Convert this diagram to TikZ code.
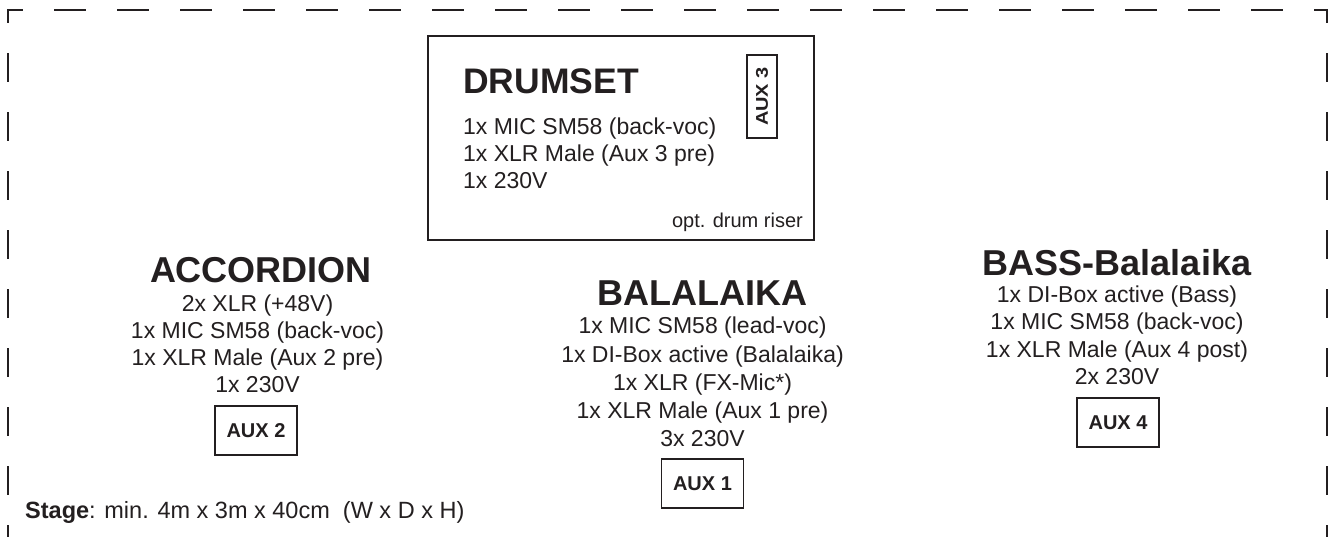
\documentclass[tikz,border=0pt]{standalone}
\usepackage{fontspec}
\setmainfont{Liberation Sans}
\definecolor{ink}{HTML}{231F20}
\begin{document}
\begin{tikzpicture}[x=1pt,y=-1pt,
  every node/.style={text=ink, inner sep=0pt},
  body/.style={font=\fontsize{23}{27}\selectfont, anchor=base},
  bodyl/.style={font=\fontsize{23}{27}\selectfont, anchor=base west},
  titlec/.style={font=\fontsize{36}{40}\selectfont\bfseries, anchor=base},
  titlel/.style={font=\fontsize{35.5}{40}\selectfont\bfseries, anchor=base west},
  auxbox/.style={draw=ink, line width=1.5pt, minimum width=82pt, minimum height=49pt,
    font=\fontsize{20}{24}\selectfont\bfseries},
  hborder/.style={draw=ink, line width=1.7pt, dash pattern=on 32pt off 31pt, dash phase=16pt},
  vborder/.style={draw=ink, line width=1.7pt, dash pattern=on 29pt off 30pt, dash phase=15pt}]
\clip (0,0) rectangle (1332,536);
\fill[white] (0,0) rectangle (1332,536);
% stage border
\coordinate (tl) at (8,9.15);
\coordinate (tr) at (1327,9.15);
\coordinate (bl) at (8,620);
\coordinate (br) at (1327,620);
\coordinate (tlh) at (7.15,10);
\coordinate (trh) at (1327.85,10);
\draw[hborder] (tlh) -- (trh);
\draw[vborder] (tl) -- (bl);
\draw[vborder] (tr) -- (br);
% drumset
\node[draw=ink, line width=1.5pt, anchor=north west, minimum width=386pt, minimum height=204pt] (drum) at (427,35) {};
\node[titlel] (drumtitle) at (463,93) {DRUMSET};
\node[bodyl] (d1) at (463,134) {1x MIC SM58 (back-voc)};
\node[bodyl] (d2) at (463,161.5) {1x XLR Male (Aux 3 pre)};
\node[bodyl] (d3) at (463,188.5) {1x 230V};
\node[font=\fontsize{20}{24}\selectfont, anchor=base east] (riser) at (803,227) {opt. drum riser};
\node[draw=ink, line width=1.5pt, minimum width=30pt, minimum height=83pt] (aux3) at (762,96.5) {};
\node[font=\fontsize{20}{24}\selectfont\bfseries] (aux3t) at (aux3.center) {\rotatebox{90}{\scalebox{1}[0.85]{AUX 3}}};
% accordion
\node[titlec] (acctitle) at (261,282) {ACCORDION};
\node[body] (a1) at (257.5,311.5) {2x XLR (+48V)};
\node[body] (a2) at (257.5,338) {1x MIC SM58 (back-voc)};
\node[body] (a3) at (257.5,365.5) {1x XLR Male (Aux 2 pre)};
\node[body] (a4) at (257.5,392) {1x 230V};
\node[auxbox] (aux2) at (256,430.5) {AUX 2};
% balalaika
\node[titlec] (baltitle) at (702.5,305) {BALALAIKA};
\node[body] (b1) at (702.5,333.3) {1x MIC SM58 (lead-voc)};
\node[body] (b2) at (702.5,362) {1x DI-Box active (Balalaika)};
\node[body] (b3) at (702.5,390.5) {1x XLR (FX-Mic*)};
\node[body] (b4) at (702.5,418.5) {1x XLR Male (Aux 1 pre)};
\node[body] (b5) at (702.5,446.7) {3x 230V};
\node[auxbox] (aux1) at (702.5,483.5) {AUX 1};
% bass
\node[titlec] (basstitle) at (1117,275) {BASS-Balalaika};
\node[body] (s1) at (1117,302) {1x DI-Box active (Bass)};
\node[body] (s2) at (1117,329.5) {1x MIC SM58 (back-voc)};
\node[body] (s3) at (1117,357) {1x XLR Male (Aux 4 post)};
\node[body] (s4) at (1117,384) {2x 230V};
\node[auxbox] (aux4) at (1118,422.5) {AUX 4};
% stage
\node[font=\fontsize{23.5}{27}\selectfont, anchor=base west] (stage) at (25,518) {\textbf{Stage}: min. 4m x 3m x 40cm\ \ (W x D x H)};
\end{tikzpicture}
\end{document}
